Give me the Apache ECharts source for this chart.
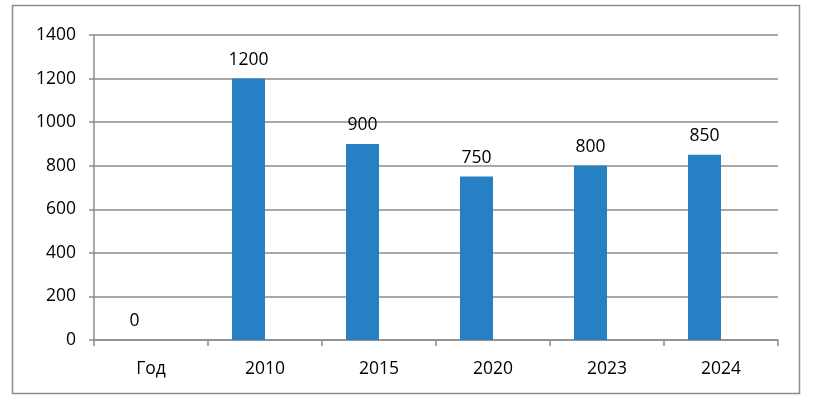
<!DOCTYPE html>
<html><head><meta charset="utf-8">
<script src="https://cdn.jsdelivr.net/npm/echarts@6/dist/echarts.min.js"></script>
<style>html,body{margin:0;padding:0;background:#fff}#c{width:813px;height:402px}</style>
</head><body><div id="c"></div>
<script>
const categories = ['Год', '2010', '2015', '2020', '2023', '2024'];
const values = [0, 1200, 900, 750, 800, 850];
const emptySeries = [null, null, null, null, null, null];
const yTicks = [0, 200, 400, 600, 800, 1000, 1200, 1400];

const chart = echarts.init(document.getElementById('c'), null, {renderer: 'canvas'});
const font = '"Open Sans", "Noto Sans", sans-serif';
chart.setOption({
  animation: false,
  backgroundColor: '#fff',
  graphic: [{
    type: 'rect', shape: {x: 12.5, y: 5.5, width: 787, height: 388},
    style: {fill: 'none', stroke: '#8c8c8c', lineWidth: 1.5}
  }],
  grid: {left: 94, right: 35, top: 35, bottom: 62},
  xAxis: {
    type: 'category', data: categories,
    axisLine: {lineStyle: {color: '#8c8c8c', width: 1.5}},
    axisTick: {show: true, length: 6, lineStyle: {color: '#8c8c8c', width: 1.5}},
    axisLabel: {color: '#000', fontSize: 17.5, fontFamily: font, margin: 20}
  },
  yAxis: {
    type: 'value', min: yTicks[0], max: yTicks[yTicks.length - 1], interval: 200,
    axisLine: {show: true, lineStyle: {color: '#8c8c8c', width: 1.5}},
    axisTick: {show: true, length: 5, lineStyle: {color: '#8c8c8c', width: 1.5}},
    splitLine: {lineStyle: {color: '#8c8c8c', width: 1.5}},
    axisLabel: {color: '#000', fontSize: 17.5, fontFamily: font, margin: 18,
      formatter: v => String(v)}
  },
  series: [{
    type: 'bar', data: values, barWidth: 33, barGap: '0%',
    itemStyle: {color: '#2880c4'},
    label: {show: true, position: 'top', distance: 10, color: '#000', fontSize: 17.5, fontFamily: font}
  }, {
    type: 'bar', data: emptySeries, barWidth: 33, barGap: '0%',
    itemStyle: {color: '#c0504d'}
  }]
});
</script></body></html>
